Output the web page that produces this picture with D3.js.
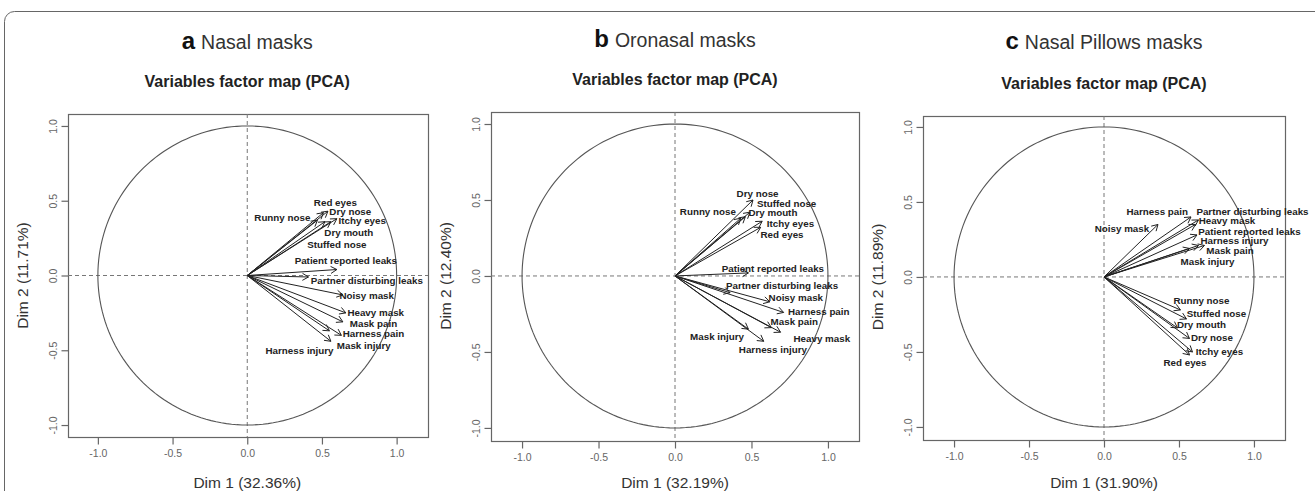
<!DOCTYPE html>
<html><head><meta charset="utf-8">
<script src="https://cdn.jsdelivr.net/npm/d3@7"></script>
<style>html,body{margin:0;padding:0;background:#fff;}svg{display:block;}</style>
</head><body>
<svg id="chart" width="1315" height="491"></svg>
<script>
// ---------- DATA ----------
const variables = ["Runny nose","Red eyes","Dry nose","Itchy eyes","Dry mouth","Stuffed nose",
  "Patient reported leaks","Partner disturbing leaks","Noisy mask","Heavy mask","Mask pain",
  "Harness pain","Mask injury","Harness injury"];
const panelLetters = ["a","b","c"];
const panelNames = ["Nasal masks","Oronasal masks","Nasal Pillows masks"];
const dim1Percent = ["32.36%","32.19%","31.90%"];
const dim2Percent = ["11.71%","12.40%","11.89%"];
const tickValues = [-1.0,-0.5,0.0,0.5,1.0];
const tickLabels = ["-1.0","-0.5","0.0","0.5","1.0"];

// coordinates (Dim 1, Dim 2) per mask type, in variables order
const nasalDim1 = [0.47,0.51,0.54,0.60,0.56,0.52,0.60,0.41,0.64,0.66,0.64,0.63,0.55,0.56];
const nasalDim2 = [0.37,0.42,0.43,0.38,0.36,0.36,0.04,-0.01,-0.13,-0.25,-0.31,-0.40,-0.37,-0.44];
const oronasalDim1 = [0.43,0.56,0.51,0.57,0.46,0.49,0.48,0.36,0.62,0.69,0.63,0.71,0.48,0.58];
const oronasalDim2 = [0.38,0.32,0.50,0.36,0.39,0.42,0.02,-0.11,-0.17,-0.37,-0.34,-0.24,-0.35,-0.43];
const pillowsDim1 = [0.51,0.57,0.57,0.59,0.49,0.55,0.62,0.63,0.36,0.61,0.67,0.58,0.57,0.63];
const pillowsDim2 = [-0.22,-0.52,-0.41,-0.50,-0.34,-0.28,0.28,0.38,0.35,0.35,0.21,0.40,0.19,0.21];

// label anchor (centre) positions in factor-map units, as placed by the plotting routine
const nasalLabelX = [0.235,0.59,0.69,0.77,0.68,0.60,0.66,0.80,0.80,0.86,0.845,0.845,0.78,0.35];
const nasalLabelY = [0.385,0.485,0.425,0.365,0.29,0.21,0.097,-0.037,-0.137,-0.25,-0.32,-0.39,-0.47,-0.50];
const oronasalLabelX = [0.215,0.70,0.54,0.755,0.64,0.73,0.64,0.70,0.79,0.96,0.78,0.94,0.275,0.64];
const oronasalLabelY = [0.425,0.275,0.545,0.343,0.415,0.477,0.046,-0.06,-0.14,-0.41,-0.30,-0.235,-0.40,-0.485];
const pillowsLabelX = [0.65,0.54,0.72,0.77,0.65,0.75,0.97,0.99,0.12,0.82,0.84,0.355,0.69,0.87];
const pillowsLabelY = [-0.16,-0.57,-0.405,-0.50,-0.32,-0.245,0.305,0.435,0.32,0.375,0.175,0.435,0.105,0.24];

// ---------- LAYOUT ----------
const svg = d3.select("#chart");
svg.append("rect").attr("x",4.5).attr("y",11.5).attr("width",1330).attr("height",520)
  .attr("rx",10).attr("fill","none").attr("stroke","#666").attr("stroke-width",1);

const boxes = [
  {left:68, right:428, top:114, bottom:437},
  {left:491, right:859, top:112, bottom:441},
  {left:923, right:1285, top:116, bottom:440}
];
const xDom = [[-1.2,1.21],[-1.203,1.203],[-1.207,1.207]];
const yDom = [[-1.08,1.08],[-1.086,1.079],[-1.087,1.073]];
const panelData = [
  [nasalDim1,nasalDim2,nasalLabelX,nasalLabelY],
  [oronasalDim1,oronasalDim2,oronasalLabelX,oronasalLabelY],
  [pillowsDim1,pillowsDim2,pillowsLabelX,pillowsLabelY]
];
const font = "'Liberation Sans', Arial, Helvetica, sans-serif";

boxes.forEach((b,pi)=>{
  const x = d3.scaleLinear().domain(xDom[pi]).range([b.left,b.right]);
  const y = d3.scaleLinear().domain(yDom[pi]).range([b.bottom,b.top]);
  const g = svg.append("g");
  const cx = x(0);

  // titles
  const t = g.append("text").attr("x",cx).attr("y",49 - (pi===1?2:0)).attr("text-anchor","middle")
    .attr("font-family",font).attr("fill","#333");
  t.append("tspan").attr("font-size",24).attr("font-weight","bold").attr("fill","#111").text(panelLetters[pi]);
  t.append("tspan").attr("font-size",19.5).attr("dx",6).text(panelNames[pi]);
  g.append("text").attr("x",cx).attr("y",b.top-27).attr("text-anchor","middle")
    .attr("font-family",font).attr("font-size",16).attr("font-weight","bold").attr("fill","#222")
    .text("Variables factor map (PCA)");

  // box
  g.append("rect").attr("x",b.left+0.5).attr("y",b.top+0.5).attr("width",b.right-b.left)
    .attr("height",b.bottom-b.top).attr("fill","none").attr("stroke","#666").attr("stroke-width",1.2);

  // axes (R-style: ticks outside the box)
  const xa = d3.axisBottom(x).tickValues(tickValues).tickFormat((d,i)=>tickLabels[i]).tickSize(7).tickPadding(5);
  const gx = g.append("g").attr("transform",`translate(0,${b.bottom+0.5})`).call(xa);
  gx.select(".domain").remove();
  gx.selectAll("line").attr("stroke","#666").attr("stroke-width",1.2);
  gx.selectAll("text").attr("font-family",font).attr("font-size",10.5).attr("fill","#666");
  const ya = d3.axisLeft(y).tickValues(tickValues).tickFormat((d,i)=>tickLabels[i]).tickSize(7).tickPadding(5);
  const gy = g.append("g").attr("transform",`translate(${b.left+0.5},0)`).call(ya);
  gy.select(".domain").remove();
  gy.selectAll("line").attr("stroke","#666").attr("stroke-width",1.2);
  gy.selectAll("text").attr("font-family",font).attr("font-size",10.5).attr("fill","#666")
    .attr("text-anchor","middle")
    .each(function(){
      d3.select(this).attr("x",null).attr("y",null)
        .attr("transform",`translate(-15,0) rotate(-90)`).attr("dy","0.32em");
    });

  // axis titles
  g.append("text").attr("x",cx).attr("y",488).attr("text-anchor","middle")
    .attr("font-family",font).attr("font-size",15.5).attr("fill","#333").text(`Dim 1 (${dim1Percent[pi]})`);
  g.append("text").attr("transform",`translate(${b.left-45},${y(0)}) rotate(-90)`)
    .attr("text-anchor","middle").attr("dy","0.35em")
    .attr("font-family",font).attr("font-size",15.5).attr("fill","#333").text(`Dim 2 (${dim2Percent[pi]})`);

  // dashed reference lines
  g.append("line").attr("x1",b.left).attr("x2",b.right).attr("y1",y(0)).attr("y2",y(0))
    .attr("stroke","#777").attr("stroke-dasharray","4,3").attr("stroke-width",1);
  g.append("line").attr("x1",x(0)).attr("x2",x(0)).attr("y1",b.top).attr("y2",b.bottom)
    .attr("stroke","#777").attr("stroke-dasharray","4,3").attr("stroke-width",1);

  // unit circle
  const circ = d3.range(0,361,2).map(a=>[Math.cos(a*Math.PI/180),Math.sin(a*Math.PI/180)]);
  g.append("path").attr("d",d3.line().x(d=>x(d[0])).y(d=>y(d[1]))(circ))
    .attr("fill","none").attr("stroke","#555").attr("stroke-width",1.1);

  // arrows
  const [d1,d2,lx,ly] = panelData[pi];
  const x0 = x(0), y0 = y(0);
  variables.forEach((v,i)=>{
    const x1 = x(d1[i]), y1 = y(d2[i]);
    const ang = Math.atan2(y1-y0,x1-x0);
    const L = 7, A = Math.PI/6;
    const h1 = [x1 - L*Math.cos(ang-A), y1 - L*Math.sin(ang-A)];
    const h2 = [x1 - L*Math.cos(ang+A), y1 - L*Math.sin(ang+A)];
    g.append("path").attr("d",`M${x0},${y0}L${x1},${y1}M${h1[0]},${h1[1]}L${x1},${y1}L${h2[0]},${h2[1]}`)
      .attr("fill","none").attr("stroke","#222").attr("stroke-width",1);
  });
  variables.forEach((v,i)=>{
    g.append("text").attr("x",x(lx[i])).attr("y",y(ly[i])).attr("dy","0.35em").attr("text-anchor","middle")
      .attr("font-family",font).attr("font-size",9.8).attr("font-weight","bold").attr("fill","#222").text(v);
  });
});
</script>
</body></html>
